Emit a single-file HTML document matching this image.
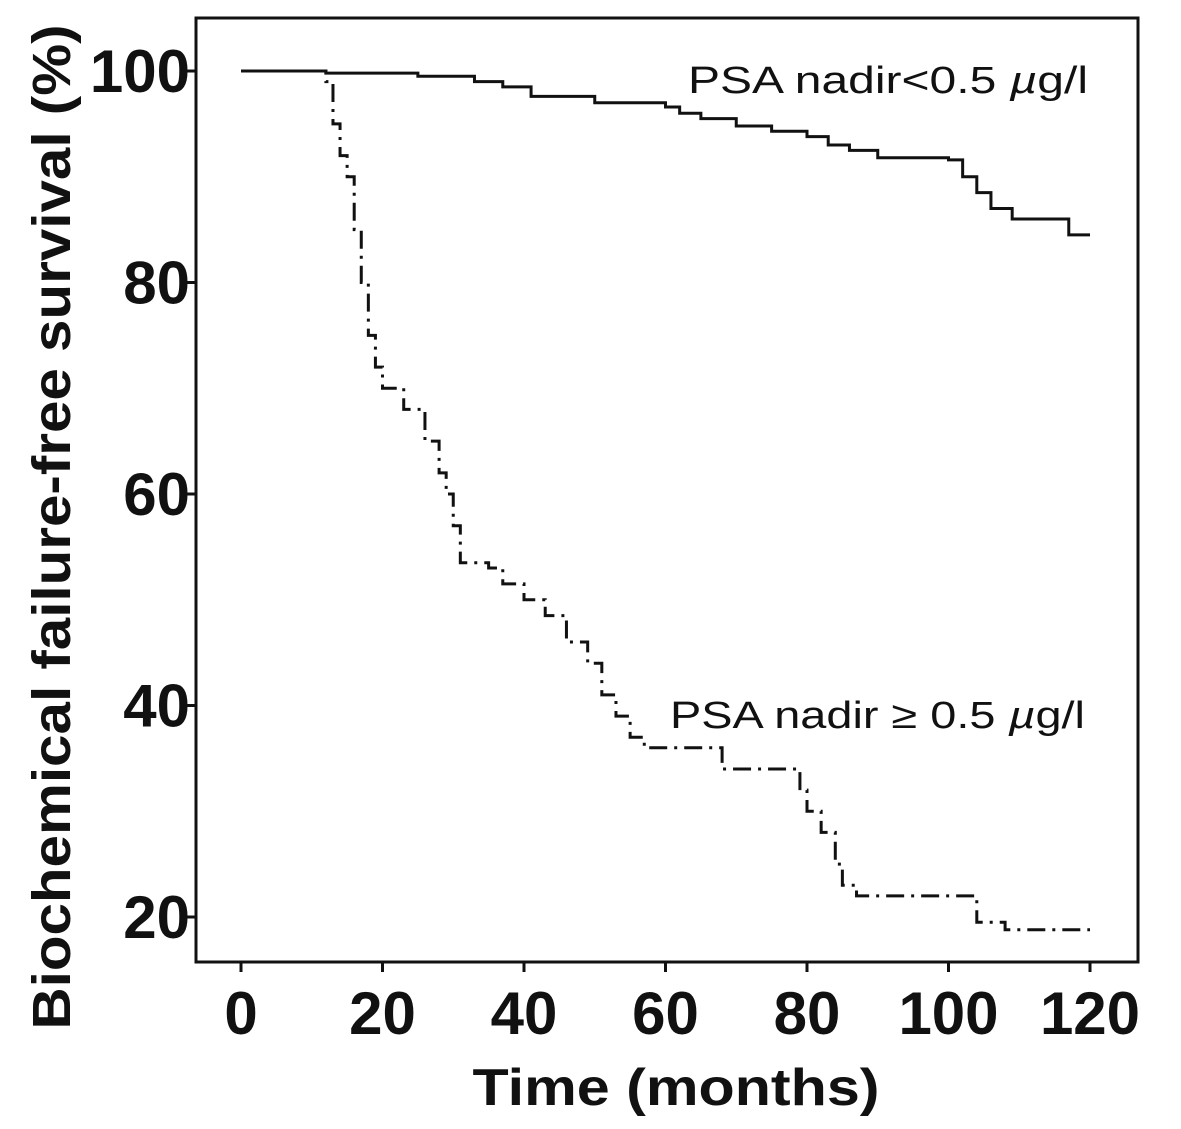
<!DOCTYPE html>
<html><head><meta charset="utf-8"><style>
html,body{margin:0;padding:0;background:#fff;}
svg{display:block;font-family:"Liberation Sans",Arial,sans-serif;}
</style></head><body>
<svg id="chart" width="1181" height="1129" viewBox="0 0 1181 1129">
<rect x="196" y="18" width="942" height="944" fill="none" stroke="#111" stroke-width="3"/>
<g id="axes"></g>
<g id="series"></g>
<text transform="translate(70,527) rotate(-90)" text-anchor="middle" font-size="54" font-weight="bold" fill="#111" textLength="1005" lengthAdjust="spacingAndGlyphs">Biochemical failure-free survival (%)</text>
<text x="676" y="1105" text-anchor="middle" font-size="52" font-weight="bold" fill="#111" textLength="407" lengthAdjust="spacingAndGlyphs">Time (months)</text>
<text x="688" y="93" font-size="38" fill="#111" textLength="400" lengthAdjust="spacingAndGlyphs">PSA nadir&lt;0.5 <tspan font-style="italic">µ</tspan>g/l</text>
<text x="670" y="728" font-size="38" fill="#111" textLength="415" lengthAdjust="spacingAndGlyphs">PSA nadir ≥ 0.5 <tspan font-style="italic">µ</tspan>g/l</text>
</svg>
<script>
const xTicks=[0,20,40,60,80,100,120];
const yTicks=[20,40,60,80,100];
const lowT=[0,12,25,33,37,41,50,60,62,65,70,75,80,83,86,90,100,102,104,106,109,117,120];
const lowS=[100,99.8,99.5,99,98.5,97.6,97,96.6,96,95.5,94.8,94.3,93.8,93,92.5,91.8,91.6,90,88.5,87,86,84.5,84.5];
const highT=[0,12,13,14,15,16,17,18,19,20,23,26,28,29,30,31,35,37,40,43,46,49,51,53,55,57,60,68,75,79,80,82,84,85,87,104,108,120];
const highS=[100,99,95,92,90,85,80,75,72,70,68,65,62,60,57,53.5,53,51.5,50,48.5,46,44,41,39,37,36,36,34,34,32,30,28,25,23,22,19.5,18.8,18.8];
const ns="http://www.w3.org/2000/svg";
const X=m=>241+m*(1090-241)/120;
const Y=v=>917-(v-20)*(917-71)/80;
const axes=document.getElementById('axes'),ser=document.getElementById('series');
function mk(tag,attrs,parent){const e=document.createElementNS(ns,tag);for(const k in attrs)e.setAttribute(k,attrs[k]);parent.appendChild(e);return e;}
xTicks.forEach(t=>{
 const l=mk('line',{x1:X(t),x2:X(t),y1:962,y2:972,stroke:'#111','stroke-width':3},axes);
 
 
 const tx=mk('text',{x:X(t),y:1034,'text-anchor':'middle','font-size':60,'font-weight':'bold',fill:'#111'},axes);
 tx.textContent=t;
 
 
});
yTicks.forEach(t=>{
 const l=mk('line',{x1:186,x2:196,y1:Y(t),y2:Y(t),stroke:'#111','stroke-width':3},axes);
 
 
 const tx=mk('text',{x:190,y:Y(t)+21,'text-anchor':'end','font-size':60,'font-weight':'bold',fill:'#111'},axes);
 tx.textContent=t;
 
 
});
function step(T,S){let d='M'+X(T[0])+','+Y(S[0]);for(let i=1;i<T.length;i++){d+=' H'+X(T[i])+' V'+Y(S[i]);}return d;}
const p1=mk('path',{d:step(lowT,lowS),fill:'none',stroke:'#111','stroke-width':3},ser);


const p2=mk('path',{d:step(highT,highS),fill:'none',stroke:'#111','stroke-width':3,'stroke-dasharray':'18 7 3 7'},ser);


</script>
</body></html>
